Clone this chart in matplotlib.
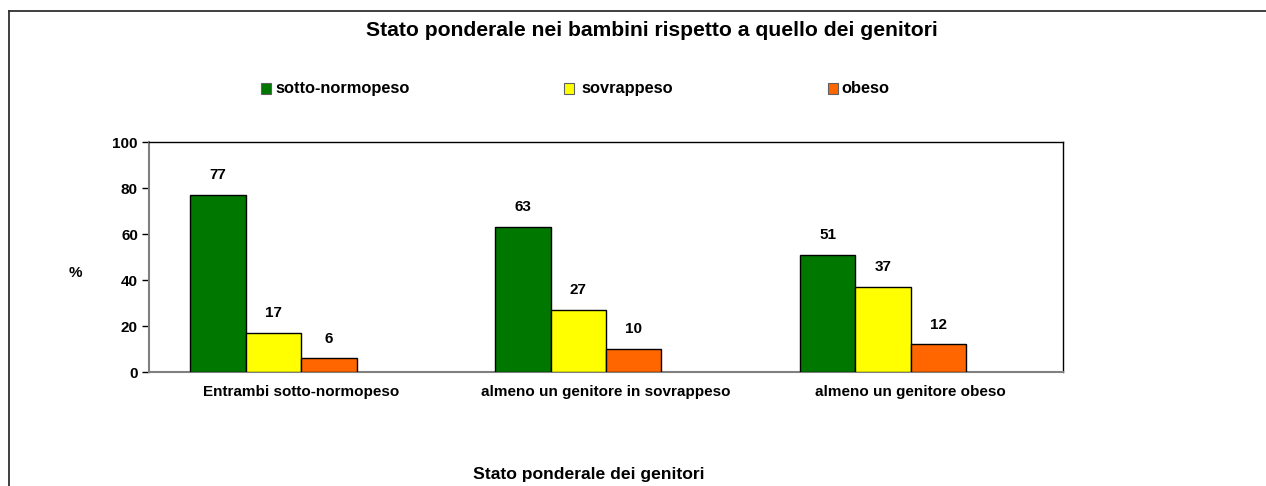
import matplotlib.pyplot as plt
import numpy as np
from matplotlib.patches import Rectangle
from matplotlib.lines import Line2D

plt.rcParams['font.family'] = ['Liberation Sans', 'DejaVu Sans']

categorie = ['Entrambi sotto-normopeso', 'almeno un genitore in sovrappeso', 'almeno un genitore obeso']
serie = ['sotto-normopeso', 'sovrappeso', 'obeso']
sotto_normopeso = [77, 63, 51]
sovrappeso = [17, 27, 37]
obeso = [6, 10, 12]
colori = ['#007800', '#ffff00', '#ff6600']

W, H = 1266, 486
fig = plt.figure(figsize=(W / 100, H / 100), dpi=100)
ax = fig.add_axes([149 / W, (H - 372) / H, 914 / W, 230 / H])

x = np.arange(len(categorie))
w = 0.182  # 4 slots per group, the 4th one empty
valori = [sotto_normopeso, sovrappeso, obeso]
for i, (vals, col) in enumerate(zip(valori, colori)):
    pos = x + (i - 1.5) * w
    ax.bar(pos, vals, width=w, color=col, edgecolor='black', linewidth=1, zorder=3)
    for p, v in zip(pos, vals):
        ax.text(p, v + 5.5, str(v), ha='center', va='bottom', fontsize=11, fontweight='bold')

ax.set_xlim(-0.5, 2.5)
ax.set_ylim(0, 100)
ax.set_yticks([0, 20, 40, 60, 80, 100])
ax.set_xticks(x)
ax.set_xticklabels(categorie, fontsize=11, fontweight='bold')
ax.tick_params(axis='x', length=0, pad=9)
ax.tick_params(axis='y', length=5, width=1, labelsize=11, pad=3, direction='out')
for lab in ax.get_yticklabels():
    lab.set_fontweight('bold')
ax.spines['left'].set_color('#808080')
ax.spines['bottom'].set_color('#808080')
ax.spines['left'].set_linewidth(1.5)
ax.spines['bottom'].set_linewidth(1.5)
ax.spines['top'].set_linewidth(1)
ax.spines['right'].set_linewidth(1)

fig.text(652 / W, 1 - 30 / H, 'Stato ponderale nei bambini rispetto a quello dei genitori',
         ha='center', va='center', fontsize=15.2, fontweight='bold')
fig.text(75 / W, 1 - 273 / H, '%', ha='center', va='center', fontsize=11, fontweight='bold')
fig.text(589 / W, 1 - 474 / H, 'Stato ponderale dei genitori', ha='center', va='center',
         fontsize=12.6, fontweight='bold')

# legenda
leg_x = [261, 564, 828]
txt_x = [275, 581, 841]
for lx, tx, nome, col in zip(leg_x, txt_x, serie, colori):
    fig.patches.append(Rectangle((lx / W, 1 - 94 / H), 10 / W, 11 / H, transform=fig.transFigure,
                                 facecolor=col, edgecolor='#606060', linewidth=0.8))
    fig.text(tx / W, 1 - 88 / H, nome, ha='left', va='center', fontsize=11.8, fontweight='bold')

# cornice
fig.lines.append(Line2D([9 / W, 1], [1 - 11 / H, 1 - 11 / H], transform=fig.transFigure,
                        color='#303030', linewidth=1.3))
fig.lines.append(Line2D([9 / W, 9 / W], [0, 1 - 11 / H], transform=fig.transFigure,
                        color='#303030', linewidth=1.3))

fig.savefig('out.png', dpi=100)
